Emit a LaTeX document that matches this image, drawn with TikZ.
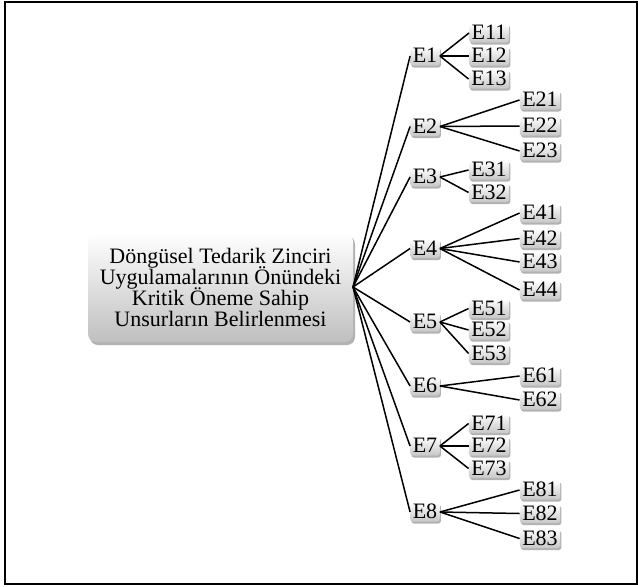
\documentclass[tikz,border=0pt]{standalone}
\usepackage{fontspec}
\setmainfont{Liberation Serif}
\usetikzlibrary{shadows}
\setlength{\lineskiplimit}{-30pt}
\begin{document}
\begin{tikzpicture}[x=1pt,y=-1pt,
  lbl/.style={font=\fontsize{22}{22}\selectfont, rounded corners=2.5pt,
    top color=white, bottom color=black!22, inner xsep=2.5pt, inner ysep=2pt,
    text height=14pt, text depth=1pt,
    drop shadow={shadow xshift=1.2pt, shadow yshift=-2pt, opacity=0.3, fill=black}},
  mainbox/.style={font=\fontsize{22}{20.7}\selectfont, align=center, rounded corners=8pt,
    top color=white, bottom color=black!25, minimum width=265pt, minimum height=109pt,
    drop shadow={shadow xshift=2pt, shadow yshift=-3pt, opacity=0.3, fill=black}},
  conn/.style={line width=1.5pt, black}
]
\useasboundingbox (0,0) rectangle (638,587);
\draw[line width=2pt] (5,2) rectangle (636.5,584);

\node[mainbox] (m) at (220.5,287.5) {Döngüsel Tedarik Zinciri\\Uygulamalarının Önündeki\\Kritik Öneme Sahip\\Unsurların Belirlenmesi};
\coordinate (o) at (353,287);

% first level
\node[lbl] (e1) at (425,56) {E1};
\node[lbl] (e2) at (425,126.5) {E2};
\node[lbl] (e3) at (425,177) {E3};
\node[lbl] (e4) at (425,248.5) {E4};
\node[lbl] (e5) at (425,322) {E5};
\node[lbl] (e6) at (425,386) {E6};
\node[lbl] (e7) at (425,446) {E7};
\node[lbl] (e8) at (425,512) {E8};

% second level near column
\node[lbl] (e11) at (489,33) {E11};
\node[lbl] (e12) at (489,56) {E12};
\node[lbl] (e13) at (489,79) {E13};
\node[lbl] (e31) at (489,170) {E31};
\node[lbl] (e32) at (489,192.5) {E32};
\node[lbl] (e51) at (489,308.5) {E51};
\node[lbl] (e52) at (489,330) {E52};
\node[lbl] (e53) at (489,353.5) {E53};
\node[lbl] (e71) at (489,423.5) {E71};
\node[lbl] (e72) at (489,446) {E72};
\node[lbl] (e73) at (489,468.5) {E73};
% far column
\node[lbl] (e21) at (540,100) {E21};
\node[lbl] (e22) at (540,126) {E22};
\node[lbl] (e23) at (540,151) {E23};
\node[lbl] (e41) at (540,213) {E41};
\node[lbl] (e42) at (540,238.5) {E42};
\node[lbl] (e43) at (540,262) {E43};
\node[lbl] (e44) at (540,290) {E44};
\node[lbl] (e61) at (540,376) {E61};
\node[lbl] (e62) at (540,400) {E62};
\node[lbl] (e81) at (540,490) {E81};
\node[lbl] (e82) at (540,513.5) {E82};
\node[lbl] (e83) at (540,538.5) {E83};

\foreach \i in {1,...,8} \draw[conn] (o) -- (e\i.west);
\foreach \p/\c in {1/1,1/2,1/3,2/1,2/2,2/3,3/1,3/2,4/1,4/2,4/3,4/4,5/1,5/2,5/3,6/1,6/2,7/1,7/2,7/3,8/1,8/2,8/3}
  \draw[conn] (e\p.east) -- (e\p\c.west);
\end{tikzpicture}
\end{document}
